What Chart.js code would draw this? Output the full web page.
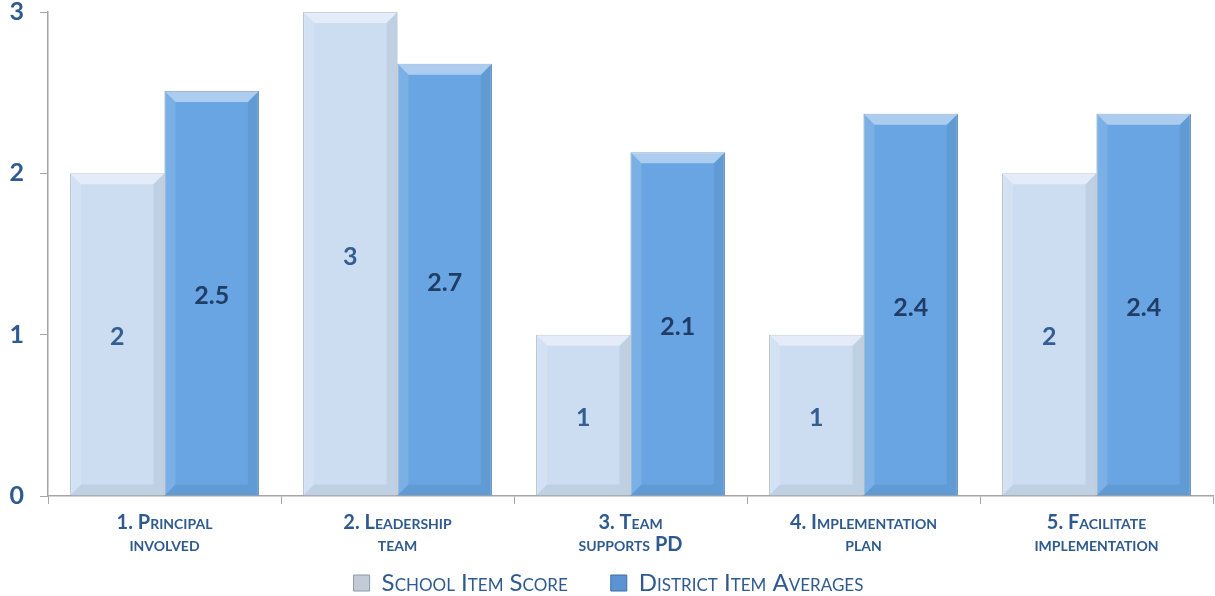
<!DOCTYPE html>
<html>
<head>
<meta charset="utf-8">
<script src="https://cdn.jsdelivr.net/npm/chart.js@4.4.1/dist/chart.umd.min.js"></script>
<style>
  html, body { margin: 0; padding: 0; background: #fff; }
  #wrap { width: 1215px; height: 596px; }
</style>
</head>
<body>
<div id="wrap"><canvas id="chart"></canvas></div>
<script>
// chart data
const categories = [
  ["1. Principal", "involved"],
  ["2. Leadership", "team"],
  ["3. Team", "supports PD"],
  ["4. Implementation", "plan"],
  ["5. Facilitate", "implementation"]
];
const schoolScores = [2, 3, 1, 1, 2];
const districtAverages = [2.51, 2.68, 2.13, 2.37, 2.37];
const yTicks = [0, 1, 2, 3];

const textBlue = "#2F5A8E";
const fontFam = "Lato, 'Open Sans', sans-serif";
// fonts with this family name in the list are drawn in small caps
const scFam = "SmallCapsMark, " + fontFam;

// canvas font shorthand drops small-caps, so switch it on by hand
const proto = CanvasRenderingContext2D.prototype;
const origFill = proto.fillText, origMeasure = proto.measureText;
function setCaps(ctx) {
  ctx.fontVariantCaps = ctx.font.indexOf("SmallCapsMark") >= 0 ? "small-caps" : "normal";
}
proto.fillText = function (...args) { setCaps(this); return origFill.apply(this, args); };
proto.measureText = function (...args) { setCaps(this); return origMeasure.apply(this, args); };

// numbers written in the middle of each bar
const barLabels = {
  id: "barLabels",
  afterDatasetsDraw(chart) {
    const ctx = chart.ctx;
    ctx.save();
    ctx.font = "bold 25px " + fontFam;
    ctx.textAlign = "center";
    ctx.textBaseline = "middle";
    chart.data.datasets.forEach((ds, i) => {
      const meta = chart.getDatasetMeta(i);
      ctx.fillStyle = i === 0 ? "#335E92" : "#1F3D66";
      meta.data.forEach((bar, j) => {
        const v = ds.data[j];
        const txt = Number.isInteger(v) ? String(v) : v.toFixed(1);
        ctx.fillText(txt, bar.x, (bar.y + bar.base) / 2 + 3);
      });
    });
    ctx.restore();
  }
};

// simple bevel look on the bars
const bevel = {
  id: "bevel",
  afterDatasetsDraw(chart) {
    const ctx = chart.ctx;
    ctx.save();
    chart.data.datasets.forEach((ds, i) => {
      const meta = chart.getDatasetMeta(i);
      meta.data.forEach(bar => {
        const l = bar.x - bar.width / 2, r = bar.x + bar.width / 2;
        const t = bar.y, b = bar.base, d = 11;
        ctx.fillStyle = "rgba(255,255,255,0.45)";
        ctx.beginPath();
        ctx.moveTo(l, t); ctx.lineTo(r, t); ctx.lineTo(r - d, t + d); ctx.lineTo(l + d, t + d);
        ctx.closePath(); ctx.fill();
        ctx.fillStyle = "rgba(0,0,0,0.06)";
        ctx.beginPath();
        ctx.moveTo(r, t); ctx.lineTo(r, b); ctx.lineTo(r - d, b - d); ctx.lineTo(r - d, t + d);
        ctx.closePath(); ctx.fill();
        ctx.beginPath();
        ctx.moveTo(l, b); ctx.lineTo(r, b); ctx.lineTo(r - d, b - d); ctx.lineTo(l + d, b - d);
        ctx.closePath(); ctx.fill();
        ctx.fillStyle = "rgba(255,255,255,0.12)";
        ctx.beginPath();
        ctx.moveTo(l, t); ctx.lineTo(l + d, t + d); ctx.lineTo(l + d, b - d); ctx.lineTo(l, b);
        ctx.closePath(); ctx.fill();
      });
    });
    ctx.restore();
  }
};

// the x box is kept short so the legend can sit close; let its labels spill below
const labelRoom = {
  id: "labelRoom",
  afterLayout(chart) { chart.scales.x.bottom += 60; }
};

new Chart(document.getElementById("chart"), {
  type: "bar",
  data: {
    labels: categories,
    datasets: [
      {
        label: "School Item Score",
        data: schoolScores,
        backgroundColor: "#CCDDF2",
        borderColor: "#9EAABB",
        borderWidth: 1
      },
      {
        label: "District Item Averages",
        data: districtAverages,
        backgroundColor: "#68A5E2",
        borderColor: "#4D7CB3",
        borderWidth: 1
      }
    ]
  },
  options: {
    responsive: true,
    maintainAspectRatio: false,
    animation: false,
    layout: { padding: { top: 12, right: 2, left: 4, bottom: -9 } },
    datasets: {
      bar: { categoryPercentage: 0.81, barPercentage: 1 }
    },
    scales: {
      x: {
        afterFit(scale) { scale.height = 32; },
        grid: {
          display: true,
          drawOnChartArea: false,
          offset: true,
          tickLength: 8,
          color: "#A6A6A6"
        },
        border: { color: "#A6A6A6", width: 1.5 },
        ticks: {
          color: textBlue,
          padding: 8,
          maxRotation: 0,
          font: { family: scFam, size: 20, weight: "bold", lineHeight: 1.1 }
        }
      },
      y: {
        min: 0,
        max: 3,
        afterBuildTicks(scale) { scale.ticks = yTicks.map(v => ({ value: v })); },
        afterFit(scale) { scale.width = 44; scale.paddingTop = 0; },
        grid: {
          display: true,
          drawOnChartArea: false,
          tickLength: 8,
          color: "#A6A6A6"
        },
        border: { color: "#A6A6A6", width: 1.5 },
        ticks: {
          color: textBlue,
          padding: 16,
          font: { family: fontFam, size: 25, weight: "bold" }
        }
      }
    },
    plugins: {
      tooltip: { enabled: false },
      legend: {
        position: "bottom",
        labels: {
          color: textBlue,
          boxWidth: 16,
          boxHeight: 16,
          padding: 43,
          font: { family: scFam, size: 24 },
          generateLabels(chart) {
            return chart.data.datasets.map((ds, i) => ({
              text: ds.label,
              fillStyle: i === 0 ? "#C3CBD6" : "#5B93D3",
              strokeStyle: i === 0 ? "#8C99AA" : "#3F6EA6",
              lineWidth: 1,
              fontColor: textBlue,
              datasetIndex: i
            }));
          }
        }
      }
    }
  },
  plugins: [bevel, barLabels, labelRoom]
});
</script>
</body>
</html>
